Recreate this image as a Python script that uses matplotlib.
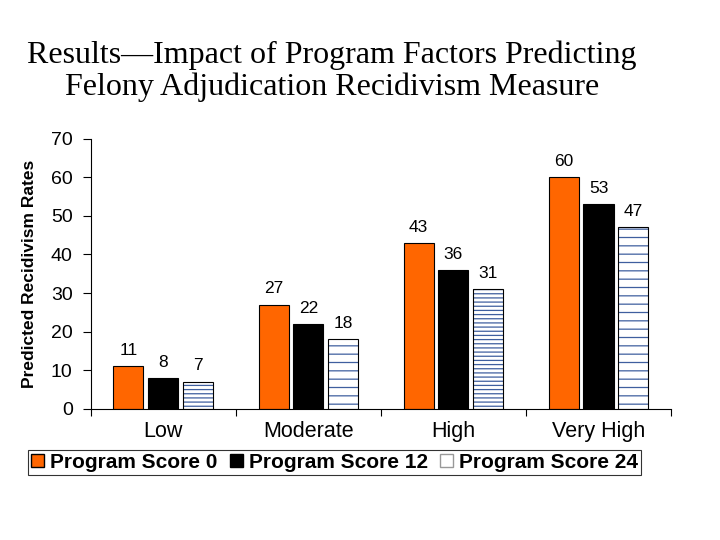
import numpy as np
import matplotlib.pyplot as plt
from matplotlib.patches import Patch

# Chart data
categories = ['Low', 'Moderate', 'High', 'Very High']
score_0 = [11, 27, 43, 60]
score_12 = [8, 22, 36, 53]
score_24 = [7, 18, 31, 47]
series_names = ['Program Score 0', 'Program Score 12', 'Program Score 24']

plt.rcParams['font.family'] = ['Liberation Sans', 'DejaVu Sans']
plt.rcParams['hatch.color'] = '#3f5f9f'
plt.rcParams['hatch.linewidth'] = 0.9

fig = plt.figure(figsize=(7.2, 5.4), dpi=100)
ax = fig.add_axes([0.126, 0.243, 0.806, 0.5])

x = np.arange(len(categories))
w = 0.207
step = 0.24

# series 0 and 12
ax.bar(x - step, score_0, w, color='#ff6600', edgecolor='black', linewidth=0.8)
ax.bar(x, score_12, w, color='black', edgecolor='black', linewidth=0.8)

# series 24: hatched, dense on Low/High, sparse on Moderate/Very High
hatches = ['----', '--', '----', '--']
for i, v in enumerate(score_24):
    ax.bar(x[i] + step, v, w, color='white', edgecolor='#3f5f9f',
           linewidth=0, hatch=hatches[i])
    ax.bar(x[i] + step, v, w, fill=False, edgecolor='black', linewidth=0.8)

# value labels
for vals, off in [(score_0, -step), (score_12, 0), (score_24, step)]:
    for i, v in enumerate(vals):
        ax.annotate(str(v), (x[i] + off, v), xytext=(0, 6),
                    textcoords='offset points', ha='center', va='bottom',
                    fontsize=12.5)

ax.set_xlim(-0.5, 3.5)
ax.set_ylim(0, 70)
ax.set_yticks(range(0, 71, 10))
ax.tick_params(axis='y', labelsize=14, length=6, width=0.8, direction='out',
               pad=7)
ax.set_xticks(x)
ax.set_xticklabels(categories, fontsize=15.5)
ax.tick_params(axis='x', length=0, pad=9)
# boundary ticks between categories
ax.set_xticks(np.arange(-0.5, 4, 1), minor=True)
ax.tick_params(axis='x', which='minor', length=5, width=0.8, direction='out')
ax.spines['top'].set_visible(False)
ax.spines['right'].set_visible(False)
ax.set_ylabel('Predicted Recidivism Rates', fontsize=12.5, fontweight='bold',
              labelpad=10)

handles = [Patch(facecolor='#ff6600', edgecolor='black'),
           Patch(facecolor='black', edgecolor='black'),
           Patch(facecolor='white', edgecolor='#999999')]
leg = fig.legend(handles, series_names, loc='center', ncol=3,
                 bbox_to_anchor=(0.465, 0.144), frameon=True, fancybox=False,
                 edgecolor='black', handlelength=0.6, handleheight=0.6,
                 handletextpad=0.3, columnspacing=0.6, borderpad=0.15,
                 prop={'weight': 'bold', 'size': 15})
leg.get_frame().set_linewidth(0.8)

fig.text(0.461, 0.868, 'Results\u2014Impact of Program Factors Predicting\n'
         'Felony Adjudication Recidivism Measure',
         ha='center', va='center', fontsize=23, family='Liberation Serif',
         linespacing=1.15)

fig.savefig('out.png', dpi=100)
